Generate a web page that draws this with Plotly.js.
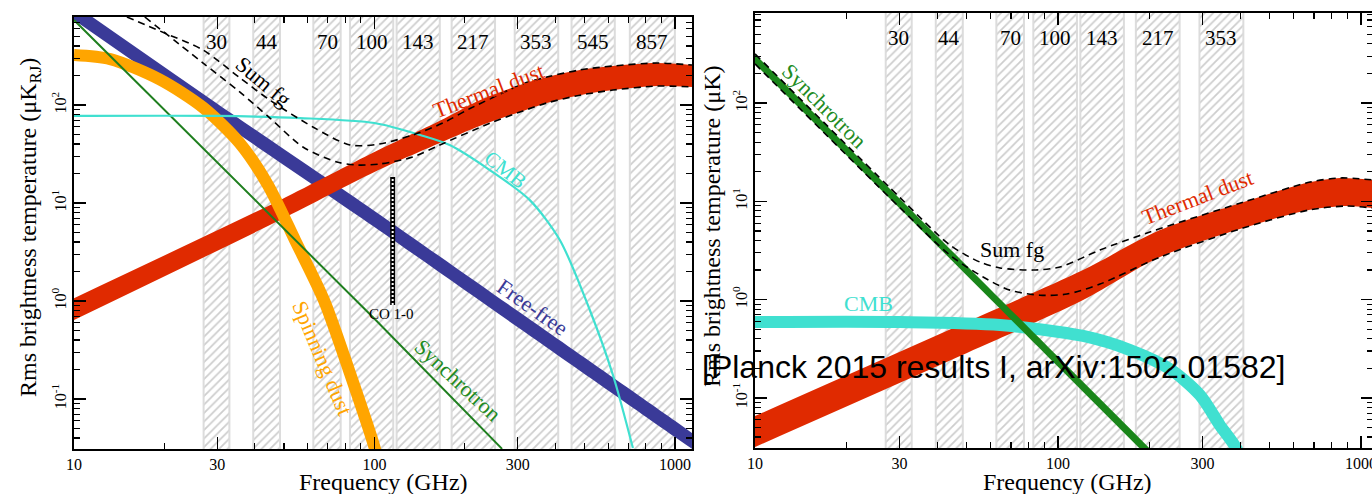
<!DOCTYPE html>
<html><head><meta charset="utf-8">
<script src="https://cdn.plot.ly/plotly-3.0.1.min.js"></script>
<style>html,body{margin:0;padding:0;overflow:hidden;background:#fff;width:1372px;height:494px}#plot{width:1376px;height:494px}</style>
</head><body><div id="plot"></div><script>
// ---------- Planck frequency bands ----------
const bandLabels = ['30','44','70','100','143','217','353','545','857'];
const bandLo = [27.0, 39.5, 62.6, 82.9, 118.5, 180.7, 293, 453, 708];
const bandHi = [32.9, 48.5, 77.2, 115.5, 165, 252, 409, 631, 1000];
const polBandCount = 7;

// ---------- Left panel: temperature (uK_RJ) ----------
const dustF   = [10, 48.5, 100, 165, 224, 312, 375, 483, 622, 871, 1140];
const dustUp  = [1.07, 10.7, 33.1, 69, 112, 164, 193, 228, 250, 268, 256];
const dustLo  = [0.64, 6.7, 20.7, 40.9, 61, 86.9, 105, 126, 142, 156, 153];

const ffF  = [10, 30, 100, 300, 1000, 1140];
const ffUp = [1070, 103, 8.3, 0.79, 0.060, 0.045];
const ffLo = [735, 71, 5.7, 0.54, 0.041, 0.031];

const ameF = [10, 13.2, 19.3, 26.9, 35.6, 44.2, 54.4, 67.9, 82.2, 100.4, 104];
const ameT = [324, 294, 182, 94.3, 40.9, 15.3, 4.19, 1.02, 0.198, 0.031, 0.019];

const syncF = [10, 30, 100, 266];
const syncT = [737, 26, 0.66, 0.031];

const cmbF = [10, 30, 56.5, 100, 142, 178, 242, 329, 414, 521, 622, 725];
const cmbT = [77.3, 77.3, 73.6, 65.5, 49.4, 39, 21.7, 10.7, 4.2, 0.81, 0.176, 0.0316];

const sumUpF = [15.0, 20.1, 26.9, 35.6, 44.9, 62.4, 82.9, 104, 134, 169, 208, 312, 375, 483, 622, 871, 1140];
const sumUp  = [791, 540, 364, 190, 112, 59.7, 39.1, 40.0, 49.4, 65.5, 92, 164, 193, 228, 250, 268, 256];
const sumLoF = [17.2, 26.9, 35.6, 44.9, 57.8, 75.0, 87.5, 104, 134, 165, 242, 312, 375, 483, 622, 871, 1140];
const sumLo  = [791, 268, 136, 73.6, 37.3, 26.2, 24.4, 25.0, 29.4, 39.1, 65, 86.9, 105, 126, 142, 156, 153];

const coF = 115, coRange = [0.91, 18.4];

// ---------- Right panel: polarization (uK) ----------
const pSyncF  = [10, 30, 100, 200];
const pSyncUp = [316, 10.7, 0.262, 0.031];
const pSyncLo = [250, 8.5, 0.208, 0.0245];

const pDustUpF = [10, 47.5, 121, 217, 408, 679, 853, 1095];
const pDustUp  = [0.0655, 0.552, 2.0, 5.1, 9.8, 15.7, 17.3, 16.5];
const pDustLoF = [10, 47.5, 121, 217, 408, 679, 899, 1095];
const pDustLo  = [0.0317, 0.267, 0.99, 2.71, 5.35, 8.2, 8.96, 8.55];

const pCmbF = [10, 30.1, 64.4, 121, 173, 234, 294, 342, 387, 414];
const pCmbT = [0.591, 0.591, 0.552, 0.427, 0.307, 0.197, 0.107, 0.053, 0.031, 0.0185];

const pSumUpF = [10, 30.1, 44.0, 55.3, 64.4, 82.7, 101.5, 137.6, 201, 408, 679, 853, 1095];
const pSumUp  = [316, 10.9, 3.59, 2.41, 2.10, 2.0, 2.15, 3.20, 4.87, 9.8, 15.7, 17.3, 16.5];
const pSumLoF = [10, 30.1, 44.0, 56.6, 69.4, 87.2, 107, 137.6, 217, 408, 679, 899, 1095];
const pSumLo  = [250, 8.6, 2.84, 1.70, 1.25, 1.11, 1.14, 1.44, 2.71, 5.35, 8.2, 8.96, 8.55];

// ---------- styling ----------
const W = 1376, H = 494;
const SERIF = 'Liberation Serif, Times New Roman, serif';
const RED = '#e02a00', BLUE = '#3a3a98', ORANGE = '#ffa500', TURQ = '#40e0d0', GREEN = '#1f7f1f', GREEN2 = '#1a861a';

function line(x, y, xa, ya, color, width, dash, shape) {
  return {type:'scatter', mode:'lines', x, y, xaxis:xa, yaxis:ya,
    line:{color, width, dash: dash || 'solid', shape: shape || 'spline', smoothing: 0.8},
    hoverinfo:'skip', showlegend:false};
}
function band(xl, yl, xu, yu, xa, ya, color) {
  return [
    {type:'scatter', mode:'lines', x:xl, y:yl, xaxis:xa, yaxis:ya, line:{width:0, shape:'spline', smoothing:0.8, color}, hoverinfo:'skip', showlegend:false},
    {type:'scatter', mode:'lines', x:xu, y:yu, xaxis:xa, yaxis:ya, fill:'tonexty', fillcolor:color, line:{width:0, shape:'spline', smoothing:0.8, color}, hoverinfo:'skip', showlegend:false}
  ];
}
function bandsTrace(n, xa, ya) {
  const xs = [], ys = [];
  for (let i = 0; i < n; i++) {
    xs.push(bandLo[i], bandHi[i], bandHi[i], bandLo[i], bandLo[i], null);
    ys.push(1e-3, 1e-3, 1e4, 1e4, 1e-3, null);
  }
  return {type:'scatter', mode:'lines', x:xs, y:ys, xaxis:xa, yaxis:ya, fill:'toself', fillcolor:'#ffffff',
    fillpattern:{shape:'/', fgcolor:'#cdcdcd', bgcolor:'#ffffff', size:6, solidity:0.28},
    line:{color:'#dcdcdc', width:2}, hoverinfo:'skip', showlegend:false};
}

const traces = [];
// left
traces.push(bandsTrace(bandLo.length, 'x', 'y'));
traces.push(...band(ffF, ffLo, ffF, ffUp, 'x', 'y', BLUE));
traces.push(...band(dustF, dustLo, dustF, dustUp, 'x', 'y', RED));
traces.push(line(ameF, ameT, 'x', 'y', ORANGE, 12));
traces.push(line(syncF, syncT, 'x', 'y', GREEN, 2, 'solid', 'linear'));
traces.push(line(cmbF, cmbT, 'x', 'y', TURQ, 2.2));
traces.push(line(sumUpF, sumUp, 'x', 'y', '#000', 1.6, '7px,5px'));
traces.push(line(sumLoF, sumLo, 'x', 'y', '#000', 1.6, '7px,5px'));
traces.push(line([coF, coF], coRange, 'x', 'y', '#000', 5, 'solid', 'linear'));
traces.push(line([coF, coF], coRange, 'x', 'y', '#fff', 2, '2px,2px', 'linear'));
// right
traces.push(bandsTrace(polBandCount, 'x2', 'y2'));
traces.push(...band(pDustLoF, pDustLo, pDustUpF, pDustUp, 'x2', 'y2', RED));
traces.push(line(pCmbF, pCmbT, 'x2', 'y2', TURQ, 12));
traces.push(...band(pSyncF, pSyncLo, pSyncF, pSyncUp, 'x2', 'y2', GREEN2));
traces.push(line(pSumUpF, pSumUp, 'x2', 'y2', '#000', 1.6, '7px,5px'));
traces.push(line(pSumLoF, pSumLo, 'x2', 'y2', '#000', 1.6, '7px,5px'));

const xMinor = [20,40,50,60,70,80,90,200,400,500,600,700,800,900];
const yMinor = [];
[0.01,0.1,1,10,100].forEach(d => { for (let k = 2; k <= 9; k++) yMinor.push(d*k); });
const axBase = {type:'log', showline:true, linecolor:'#000', linewidth:2, mirror:'allticks',
  ticks:'inside', ticklen:12, tickwidth:1.4, tickcolor:'#000', showgrid:false, zeroline:false,
  ticklabeloverflow:'allow',
  tickfont:{family:SERIF, size:16, color:'#000'}, fixedrange:true};
const xAx = (dom, rng, anchor) => Object.assign({}, axBase, {domain:dom, range:rng, anchor,
  tickmode:'array', tickvals:[10,30,100,300,1000], ticktext:['10','30','100','300','1000'],
  minor:{ticks:'inside', ticklen:6, tickwidth:1.2, tickcolor:'#000', tickmode:'array', tickvals:xMinor, showgrid:false}});
const yAx = (dom, rng, anchor) => Object.assign({}, axBase, {domain:dom, range:rng, anchor,
  tickmode:'array', tickvals:[0.1,1,10,100], ticktext:['10<sup>-1</sup>','10<sup>0</sup>','10<sup>1</sup>','10<sup>2</sup>'],
  tickangle:-90,
  minor:{ticks:'inside', ticklen:6, tickwidth:1.2, tickcolor:'#000', tickmode:'array', tickvals:yMinor, showgrid:false}});

const ann = [];
function txt(text, x, y, xref, yref, size, color, angle, family) {
  ann.push({text, x, y, xref, yref, showarrow:false, xanchor:'center', yanchor:'middle',
    textangle: angle || 0, font:{family: family || SERIF, size, color}});
}
const lg = Math.log10;
// band labels
bandLabels.forEach((b, i) => txt(b, lg(Math.sqrt(bandLo[i]*bandHi[i])), 2.643, 'x', 'y', 21, '#000'));
bandLabels.slice(0, polBandCount).forEach((b, i) => txt(b, lg(Math.sqrt(bandLo[i]*bandHi[i])), 2.661, 'x2', 'y2', 21, '#000'));
// left curve labels
txt('Sum fg', 1.629, 2.235, 'x', 'y', 22, '#000', 40);
txt('Thermal dust', 2.381, 2.153, 'x', 'y', 22, RED, -21);
txt('CMB', 2.4376, 1.337, 'x', 'y', 21, TURQ, 38);
txt('Free-free', 2.527, -0.071, 'x', 'y', 22, BLUE, 35);
txt('Synchrotron', 2.278, -0.816, 'x', 'y', 22, '#228b22', 43);
txt('Spinning dust', 1.8286, -0.582, 'x', 'y', 22, ORANGE, 67);
txt('CO 1-0', 2.058, -0.133, 'x', 'y', 15, '#000', 0);
// right curve labels
txt('Synchrotron', 1.231, 1.969, 'x2', 'y2', 22, '#228b22', 45);
txt('Sum fg', 1.848, 0.515, 'x2', 'y2', 22, '#000', 0);
txt('Thermal dust', 2.459, 1.044, 'x2', 'y2', 22, RED, -21);
txt('CMB', 1.376, -0.035, 'x2', 'y2', 22, TURQ, 0);
// axis titles
txt('Rms brightness temperature (μK<sub>RJ</sub>)', 30/W, 1-228/H, 'paper', 'paper', 24, '#000', -90);
txt('Rms brightness temperature (μK)', 712/W, 1-227/H, 'paper', 'paper', 24, '#000', -90);
txt('Frequency (GHz)', 383/W, 1-482/H, 'paper', 'paper', 24, '#000');
txt('Frequency (GHz)', 1067/W, 1-482/H, 'paper', 'paper', 24, '#000');
// overlay citation
txt('[Planck 2015 results I, arXiv:1502.01582]', 993/W, 1-367/H, 'paper', 'paper', 32, '#000', 0, 'Liberation Sans, Arial, sans-serif');

const layout = {
  width:W, height:H, margin:{l:0, r:0, t:0, b:0}, paper_bgcolor:'#fff', plot_bgcolor:'#fff', showlegend:false,
  font:{family:SERIF, size:16, color:'#000'},
  xaxis: xAx([74/W, 692/W], [1, 3.057], 'y'),
  yaxis: yAx([1-449/H, 1-17/H], [-1.51, 2.898], 'x'),
  xaxis2: xAx([755/W, 1373/W], [1, 3.0396], 'y2'),
  yaxis2: yAx([1-448/H, 1-13/H], [-1.509, 2.916], 'x2'),
  annotations: ann
};
Plotly.newPlot('plot', traces, layout, {displayModeBar:false, staticPlot:true});
</script></body></html>
